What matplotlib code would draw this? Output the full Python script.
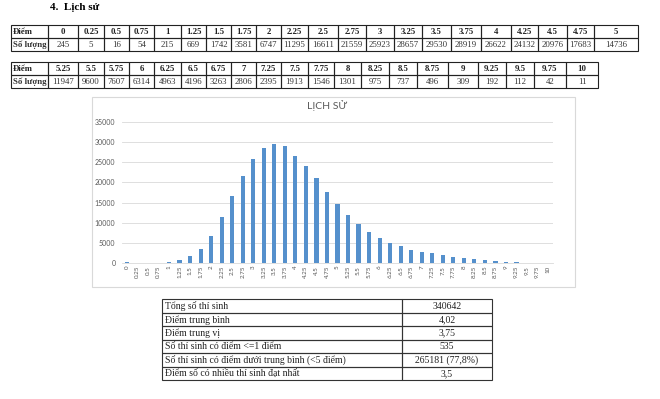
import matplotlib
matplotlib.use("Agg")
import matplotlib.pyplot as plt
from matplotlib.patches import Rectangle

# Datos: điểm và số lượng thí sinh (môn Lịch sử)
diem = ["0", "0.25", "0.5", "0.75", "1", "1.25", "1.5", "1.75", "2", "2.25", "2.5",
        "2.75", "3", "3.25", "3.5", "3.75", "4", "4.25", "4.5", "4.75", "5",
        "5.25", "5.5", "5.75", "6", "6.25", "6.5", "6.75", "7", "7.25", "7.5",
        "7.75", "8", "8.25", "8.5", "8.75", "9", "9.25", "9.5", "9.75", "10"]
so_luong = [245, 5, 16, 54, 215, 669, 1742, 3581, 6747, 11295, 16611,
            21559, 25923, 28657, 29530, 28919, 26622, 24132, 20976, 17683, 14736,
            11947, 9600, 7607, 6314, 4963, 4196, 3263, 2806, 2395, 1913,
            1546, 1301, 975, 737, 496, 309, 192, 112, 42, 11]

thong_ke_nhan = ["Tổng số thí sinh", "Điểm trung bình", "Điểm trung vị",
                 "Số thí sinh có điểm <=1 điểm",
                 "Số thí sinh có điểm dưới trung bình (<5 điểm)",
                 "Điểm số có nhiều thí sinh đạt nhất"]
thong_ke_gia_tri = ["340642", "4,02", "3,75", "535", "265181 (77,8%)", "3,5"]

SERIF = ["Liberation Serif", "DejaVu Serif"]
SANS = ["Lato", "DejaVu Sans"]
W, H = 660, 399

fig = plt.figure(figsize=(6.6, 3.99), dpi=100)
fig.patch.set_facecolor("white")

# lớp nền tính theo pixel (y hướng xuống)
bg = fig.add_axes([0, 0, 1, 1])
bg.set_xlim(0, W)
bg.set_ylim(H, 0)
bg.axis("off")

bg.text(50, 8, "4.  Lịch sử", family=SERIF, fontsize=8, fontweight="bold",
        va="center", ha="left")


def ve_bang(x0, y0, widths, header, values, row_h=13):
    x = x0
    cells = [("Điểm", "Số lượng", 37)] + list(zip(header, values, widths))
    for h, v, w in cells:
        for r, txt in enumerate([h, str(v)]):
            y = y0 + r * row_h
            bg.add_patch(Rectangle((x, y), w, row_h, fill=False, lw=0.8, ec="#222222"))
            bold = (r == 0) or (txt == "Số lượng")
            ha = "left" if txt in ("Điểm", "Số lượng") else "center"
            tx = x + 2 if ha == "left" else x + w / 2
            bg.text(tx, y + row_h / 2 + 0.5, txt, family=SERIF, fontsize=6.3,
                    fontweight="bold" if bold else "normal", ha=ha, va="center",
                    color="#222222" if r == 0 else "#333333")
        x += w


w1 = [30, 26, 25, 25, 27, 25, 25, 25, 25, 27, 30, 28, 28, 28, 29, 30, 30, 27, 29, 27, 44]
w2 = [30, 26, 25, 25, 27, 25, 25, 25, 25, 27, 26, 27, 28, 28, 31, 30, 28, 28, 32, 32]
ve_bang(11, 25, w1, diem[:21], so_luong[:21])
ve_bang(11, 62, w2, diem[21:], so_luong[21:])

# khung biểu đồ
bg.add_patch(Rectangle((92, 97), 483, 190, fc="white", ec="#d9d9d9", lw=0.8))
bg.text(327, 106, "LỊCH SỬ", family=SANS, fontsize=7.5, color="#595959",
        ha="center", va="center")

# bảng thống kê
x_a, x_b, x_c = 162, 402, 492
row_h = 13.5
for i, (nhan, gt) in enumerate(zip(thong_ke_nhan, thong_ke_gia_tri)):
    y = 299 + i * row_h
    bg.add_patch(Rectangle((x_a, y), x_b - x_a, row_h, fill=False, lw=0.8, ec="#333333"))
    bg.add_patch(Rectangle((x_b, y), x_c - x_b, row_h, fill=False, lw=0.8, ec="#333333"))
    bg.text(x_a + 3, y + row_h / 2 + 0.5, nhan, family=SERIF, fontsize=7,
            ha="left", va="center", color="#222222")
    bg.text((x_b + x_c) / 2, y + row_h / 2 + 0.5, gt, family=SERIF, fontsize=7,
            ha="center", va="center", color="#222222")

# biểu đồ cột
left, right, top, bottom = 121.7, 553.3, 122, 263
ax = fig.add_axes([left / W, 1 - bottom / H, (right - left) / W, (bottom - top) / H])
ax.set_facecolor("none")
x = list(range(len(diem)))
ax.bar(x, so_luong, width=0.4, color="#5590cc", zorder=3)
ax.set_xlim(-0.5, len(diem) - 0.5)
ax.set_ylim(0, 35000)
ax.set_yticks(range(0, 35001, 5000))
ax.set_xticks(x)
ax.set_xticklabels(diem, rotation=90, fontsize=4.5, color="#595959", family=SANS)
for lab in ax.get_yticklabels():
    lab.set_fontsize(5)
    lab.set_color("#595959")
    lab.set_family(SANS)
ax.tick_params(axis="both", length=0)
ax.tick_params(axis="y", pad=4.5)
ax.tick_params(axis="x", pad=2)
ax.grid(axis="y", color="#d9d9d9", lw=0.6, zorder=0)
for s in ["top", "right", "left"]:
    ax.spines[s].set_visible(False)
ax.spines["bottom"].set_color("#d9d9d9")
ax.spines["bottom"].set_linewidth(0.6)

fig.savefig("out.png", dpi=100)
